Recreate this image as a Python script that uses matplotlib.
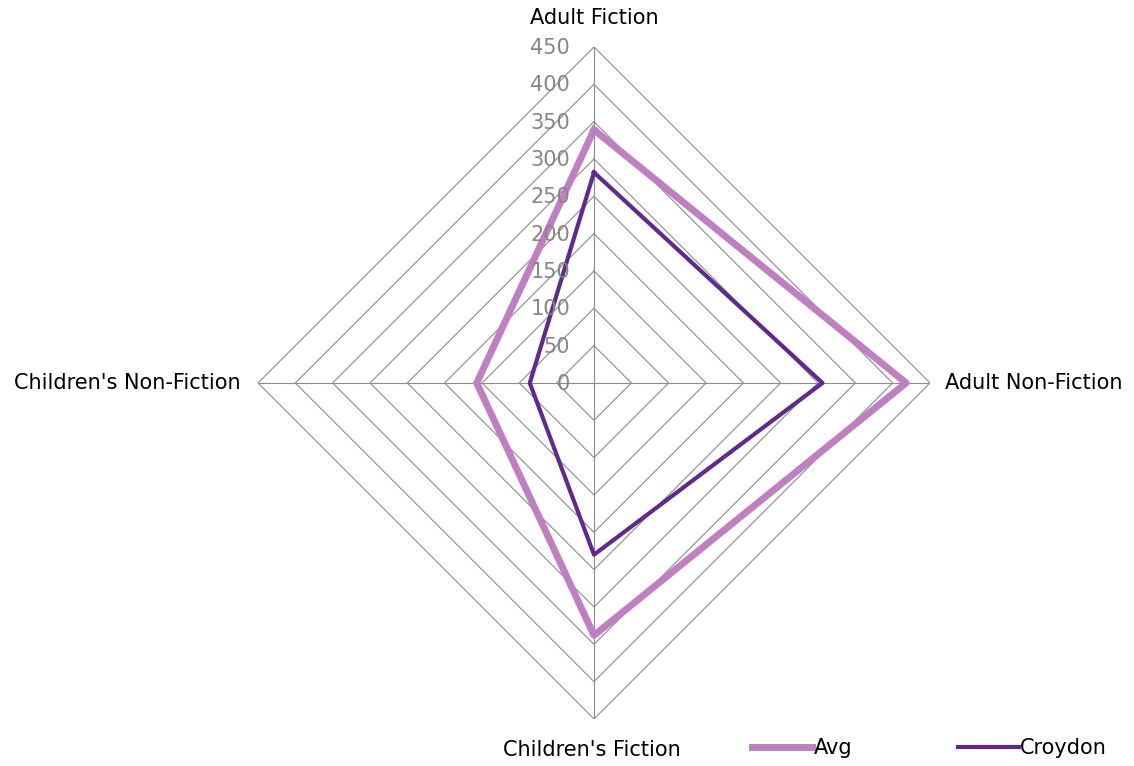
import numpy as np
import matplotlib.pyplot as plt
from matplotlib.transforms import offset_copy

categories = ["Adult Fiction", "Adult Non-Fiction", "Children's Fiction", "Children's Non-Fiction"]
avg = [339, 418, 338, 157]
croydon = [282, 306, 230, 86]
rings = [50, 100, 150, 200, 250, 300, 350, 400, 450]
tick_labels = ["0", "50", "100", "150", "200", "250", "300", "350", "400", "450"]

fig = plt.figure(figsize=(11.34, 7.66), dpi=100)
ax = fig.add_axes([0.2275, 0.0614, 0.5926, 0.8773], projection="polar")
ax.set_theta_zero_location("N")
ax.set_theta_direction(-1)
ax.set_ylim(0, 450)
ax.grid(False)
ax.spines["polar"].set_visible(False)
ax.set_xticks([])
ax.set_yticks([])

theta = np.linspace(0, 2 * np.pi, len(categories), endpoint=False)
closed = np.append(theta, theta[0])

# polygon grid
for r in rings:
    ax.plot(closed, [r] * len(closed), color="#8c8c8c", lw=0.8, zorder=1)
for t in theta:
    ax.plot([t, t], [0, 450], color="#8c8c8c", lw=0.8, zorder=1)

ax.plot(closed, avg + avg[:1], color="#c07fc0", lw=5, label="Avg", zorder=3)
ax.plot(closed, croydon + croydon[:1], color="#602a8c", lw=3, label="Croydon", zorder=4)

# radial labels next to top spoke
tr = offset_copy(ax.transData, fig=fig, x=-24, y=-1, units="dots")
for i, lab in enumerate(tick_labels):
    ax.text(0, i * 50, lab, transform=tr, ha="right", va="center",
            fontsize=15, color="#868686", zorder=5)

# category labels
fs = 15
ax.text(0, 450, categories[0], transform=offset_copy(ax.transData, fig=fig, x=0, y=29, units="dots"),
        ha="center", va="center", fontsize=fs)
ax.text(theta[1], 450, categories[1], transform=offset_copy(ax.transData, fig=fig, x=15, y=0, units="dots"),
        ha="left", va="center", fontsize=fs)
ax.text(theta[2], 450, categories[2], transform=offset_copy(ax.transData, fig=fig, x=-2, y=-31, units="dots"),
        ha="center", va="center", fontsize=fs)
ax.text(theta[3], 450, categories[3], transform=offset_copy(ax.transData, fig=fig, x=-17, y=0, units="dots"),
        ha="right", va="center", fontsize=fs)

fig.legend(loc="center left", bbox_to_anchor=(752 / 1134, 1 - 748 / 766), ncol=2, frameon=False,
           fontsize=fs, handlelength=2.9, handletextpad=0.05, columnspacing=5.1,
           borderaxespad=0, borderpad=0)

fig.savefig("out.png", dpi=100)
